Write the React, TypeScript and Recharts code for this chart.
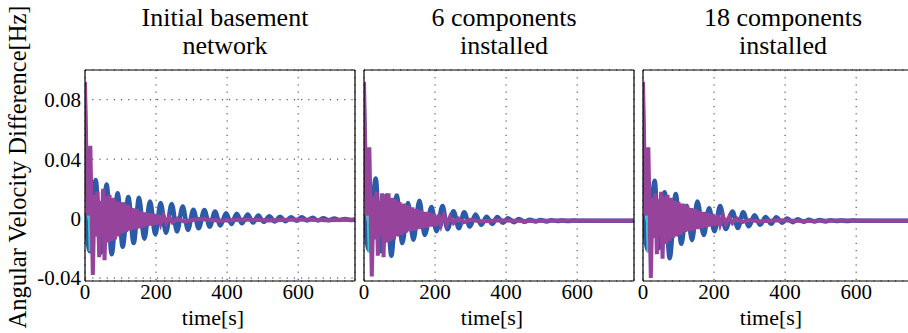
import { LineChart, Line, XAxis, YAxis, CartesianGrid } from 'recharts';

// [time s, angular velocity difference Hz]
const basementBlue: [number, number][] = [
  [0, 0.004], [14, -0.022], [30, 0.026], [44, -0.023], [61, 0.023], [75, -0.024],
  [92, 0.017], [106, -0.019], [122, 0.0145], [137, -0.0165], [152, 0.014], [167, -0.0135],
  [183, 0.0115], [198, -0.0105], [213, 0.0105], [228, -0.0095], [244, 0.0099], [259, -0.0087],
  [275, 0.0081], [290, -0.0076], [305, 0.006], [320, -0.0065], [336, 0.0058], [351, -0.0054],
  [366, 0.0047], [381, -0.0047], [397, 0.0036], [412, -0.0036], [427, 0.0032], [442, -0.0032],
  [458, 0.0027], [473, -0.0027], [488, 0.002], [503, -0.0022], [519, 0.0015], [534, -0.002],
  [549, 0.0013], [564, -0.0018], [580, 0.0009], [595, -0.0015], [610, 0.0009], [625, -0.0013],
  [641, 0.0005], [656, -0.0013], [671, 0.0002], [686, -0.0011], [702, 0.0], [717, -0.0009],
  [732, -0.0002], [747, -0.0009], [760, -0.0005],
];
const basementCyan: [number, number][] = [
  [0, 0.092], [4, 0.07], [13, -0.022], [18, 0.004], [23, -0.01], [29, 0.008], [36, -0.006],
  [46, 0.004], [60, -0.004], [80, 0.002], [110, -0.002], [160, 0.0], [250, -0.001], [760, -0.0007],
];
const basementPurple: [number, number][] = [
  [0, 0.092], [7, 0.002], [15, 0.049], [22, -0.038], [27, 0.016], [31, -0.012], [35, 0.018],
  [40, -0.026], [44, 0.012], [47, -0.01], [51, 0.02], [55, -0.028], [60, 0.015], [65, -0.016],
  [69, 0.016], [74, -0.015], [79, 0.014], [84, -0.014], [89, 0.012], [94, -0.012], [99, 0.011],
  [105, -0.01], [110, 0.011], [116, -0.009], [122, 0.009], [128, -0.008], [134, 0.007],
  [140, -0.007], [146, 0.0065], [152, -0.0065], [158, 0.005], [164, -0.006], [170, 0.004],
  [176, -0.005], [182, 0.0035], [188, -0.0045], [194, 0.003], [200, -0.004], [206, 0.0025],
  [213, -0.0035], [221, 0.002], [229, -0.003], [237, 0.001], [246, -0.0025], [260, 0.0],
  [280, -0.002], [320, -0.0003], [380, -0.0015], [450, -0.0006], [520, -0.0013], [600, -0.0006],
  [680, -0.0011], [760, -0.0008],
];

const sixBlue: [number, number][] = [
  [0, 0.003], [14, -0.021], [33, 0.027], [46, -0.022], [63, 0.0155], [77, -0.025],
  [92, 0.0155], [108, -0.0165], [124, 0.0105], [139, -0.0143], [156, 0.012], [171, -0.011],
  [190, 0.0078], [204, -0.0085], [221, 0.0085], [235, -0.0072], [252, 0.0049], [267, -0.0065],
  [282, 0.0042], [298, -0.0054], [314, 0.0027], [330, -0.0042], [345, 0.0013], [361, -0.0036],
  [375, 0.0011], [392, -0.0028], [405, 0.0002], [422, -0.0024], [436, -0.0002], [452, -0.0022],
  [467, -0.0007], [483, -0.002], [497, -0.0009], [514, -0.0019], [527, -0.0011], [545, -0.0017],
  [558, -0.0012], [575, -0.0016], [590, -0.0013], [620, -0.0015], [680, -0.0015], [760, -0.0015],
];
const sixCyan: [number, number][] = [
  [0, 0.092], [4, 0.07], [13, -0.023], [18, 0.003], [23, -0.011], [29, 0.008], [36, -0.007],
  [46, 0.004], [60, -0.004], [80, 0.002], [110, -0.002], [160, -0.0005], [250, -0.0013], [760, -0.0014],
];
const sixPurple: [number, number][] = [
  [0, 0.092], [7, 0.002], [15, 0.048], [22, -0.039], [27, 0.015], [31, -0.014], [35, 0.018],
  [39, -0.025], [43, 0.012], [47, -0.012], [51, 0.017], [55, -0.026], [60, 0.016], [65, -0.016],
  [69, 0.017], [74, -0.015], [79, 0.014], [84, -0.014], [89, 0.013], [94, -0.012], [100, 0.011],
  [106, -0.011], [112, 0.01], [118, -0.0095], [124, 0.009], [130, -0.0085], [136, 0.0075],
  [142, -0.008], [148, 0.0065], [154, -0.007], [160, 0.0055], [166, -0.0065], [172, 0.0045],
  [178, -0.006], [184, 0.004], [190, -0.0052], [196, 0.0032], [203, -0.0048], [210, 0.0026],
  [217, -0.0042], [225, 0.002], [233, -0.0036], [242, 0.0012], [252, -0.003], [265, 0.0002],
  [280, -0.0025], [300, -0.0008], [330, -0.002], [380, -0.0012], [450, -0.0016], [550, -0.0013],
  [650, -0.0015], [760, -0.0014],
];

const eighteenBlue: [number, number][] = [
  [0, 0.003], [14, -0.021], [33, 0.0255], [44, -0.02], [61, 0.0177], [75, -0.0267],
  [92, 0.0165], [108, -0.017], [123, 0.0087], [138, -0.0145], [153, 0.0115], [171, -0.011],
  [186, 0.007], [201, -0.0085], [217, 0.0085], [233, -0.007], [252, 0.0047], [267, -0.0063],
  [282, 0.0042], [298, -0.0052], [314, 0.0022], [330, -0.0042], [345, 0.0011], [361, -0.0035],
  [375, 0.0009], [392, -0.0028], [405, 0.0001], [422, -0.0024], [436, -0.0004], [452, -0.0022],
  [467, -0.0008], [483, -0.002], [497, -0.001], [514, -0.0019], [527, -0.0011], [545, -0.0017],
  [558, -0.0012], [575, -0.0016], [590, -0.0013], [620, -0.0015], [680, -0.0015], [760, -0.0015],
];
const eighteenCyan: [number, number][] = [
  [0, 0.092], [4, 0.07], [13, -0.023], [18, 0.003], [23, -0.011], [29, 0.008], [36, -0.007],
  [46, 0.004], [60, -0.004], [80, 0.002], [110, -0.002], [160, -0.0005], [250, -0.0013], [760, -0.0014],
];
const eighteenPurple: [number, number][] = [
  [0, 0.092], [7, 0.002], [15, 0.048], [22, -0.04], [27, 0.014], [31, -0.013], [35, 0.017],
  [39, -0.024], [43, 0.013], [47, -0.012], [51, 0.018], [55, -0.027], [60, 0.015], [65, -0.017],
  [69, 0.016], [74, -0.015], [79, 0.014], [84, -0.013], [89, 0.012], [94, -0.012], [100, 0.011],
  [106, -0.011], [112, 0.01], [118, -0.009], [124, 0.009], [130, -0.0085], [136, 0.007],
  [142, -0.008], [148, 0.0065], [154, -0.007], [160, 0.005], [166, -0.0065], [172, 0.0045],
  [178, -0.0058], [184, 0.0038], [190, -0.0052], [196, 0.003], [203, -0.0046], [210, 0.0024],
  [217, -0.004], [225, 0.0018], [233, -0.0035], [242, 0.001], [252, -0.003], [265, 0.0],
  [280, -0.0024], [300, -0.0009], [330, -0.0019], [380, -0.0012], [450, -0.0016], [550, -0.0013],
  [650, -0.0015], [760, -0.0014],
];

const panelTitles = [
  ['Initial basement', 'network'],
  ['6 components', 'installed'],
  ['18 components', 'installed'],
];
const xTicks = [0, 200, 400, 600];
const yTicks = [-0.04, 0, 0.04, 0.08];

const BLUE = '#2b5aa8';
const CYAN = '#3ec6c6';
const PURPLE = '#95439b';
const FONT = '"Liberation Serif", "Times New Roman", serif';

const toPts = (a: [number, number][]) => a.map(([t, v]) => ({ t, v }));

const panels = [
  { blue: basementBlue, cyan: basementCyan, purple: basementPurple, left: 85 },
  { blue: sixBlue, cyan: sixCyan, purple: sixPurple, left: 364 },
  { blue: eighteenBlue, cyan: eighteenCyan, purple: eighteenPurple, left: 643 },
];

const PLOT_W = 270;
const PLOT_TOP = 70;
const PLOT_H = 211;
const H = 333;
const X_AXIS_H = 22;
const PAD = 5;

function Panel({ idx }: { idx: number }) {
  const p = panels[idx];
  const first = idx === 0;
  // left axis band: holds the tick labels on the first panel only
  const yw = first ? p.left : PAD;
  const chartLeft = p.left - yw;
  const tickStyle = { fill: '#000', fontSize: 21, fontFamily: FONT };
  const axisLine = { stroke: '#000', strokeWidth: 1.2 };
  return (
    <div style={{ position: 'absolute', left: chartLeft, top: 0 }}>
      <LineChart
        width={yw + PLOT_W + PAD}
        height={H}
        margin={{ top: PLOT_TOP - PAD, right: 0, left: 0, bottom: H - PLOT_TOP - PLOT_H - X_AXIS_H }}
      >
        <CartesianGrid stroke="#333" strokeDasharray="1.2 6" />
        <XAxis
          dataKey="t"
          type="number"
          domain={[0, 760]}
          ticks={xTicks}
          allowDataOverflow
          height={X_AXIS_H}
          tickLine={false}
          tickSize={0}
          tickMargin={3}
          interval={0}
          axisLine={axisLine}
          tick={tickStyle}
        />
        <XAxis
          xAxisId="top"
          orientation="top"
          type="number"
          domain={[0, 760]}
          height={PAD}
          tick={false}
          tickLine={false}
          axisLine={axisLine}
        />
        <YAxis
          type="number"
          domain={[-0.042, 0.1]}
          ticks={yTicks}
          allowDataOverflow
          width={yw}
          tickLine={false}
          tickSize={0}
          tickMargin={4}
          interval={0}
          tickFormatter={(v) => String(v)}
          tick={first ? tickStyle : false}
          axisLine={axisLine}
        />
        <YAxis
          yAxisId="right"
          orientation="right"
          type="number"
          domain={[-0.042, 0.1]}
          width={PAD}
          tick={false}
          tickLine={false}
          axisLine={axisLine}
        />
        <Line data={toPts(p.blue)} dataKey="v" type="monotone" stroke={BLUE} strokeWidth={4.5} dot={false} isAnimationActive={false} />
        <Line data={toPts(p.cyan)} dataKey="v" type="linear" stroke={CYAN} strokeWidth={2} dot={false} isAnimationActive={false} />
        <Line data={toPts(p.purple)} dataKey="v" type="linear" stroke={PURPLE} strokeWidth={4} dot={false} isAnimationActive={false} />
      </LineChart>
    </div>
  );
}

export default function App() {
  return (
    <div style={{ position: 'relative', width: 908, height: H, overflow: 'hidden', background: '#fff', fontFamily: FONT, color: '#000' }}>
      <style>{'body{margin:0;overflow:hidden}'}</style>
      {panels.map((p, i) => (
        <div key={`t${i}`}>
          <Panel idx={i} />
          <div style={{ position: 'absolute', left: p.left + PLOT_W / 2 + 5 - 150, width: 300, top: 4, textAlign: 'center', fontSize: 26, lineHeight: '28px' }}>
            {panelTitles[i][0]}
            <br />
            {panelTitles[i][1]}
          </div>
          <div style={{ position: 'absolute', left: p.left + PLOT_W / 2 - 7 - 100, width: 200, top: 306, textAlign: 'center', fontSize: 22, lineHeight: '24px' }}>
            time[s]
          </div>
        </div>
      ))}
      <div style={{ position: 'absolute', left: 18 - 180, top: 167 - 14, width: 360, height: 28, lineHeight: '28px', textAlign: 'center', fontSize: 24.5, whiteSpace: 'nowrap', transform: 'rotate(-90deg)' }}>
        Angular Velocity Difference[Hz]
      </div>
    </div>
  );
}
